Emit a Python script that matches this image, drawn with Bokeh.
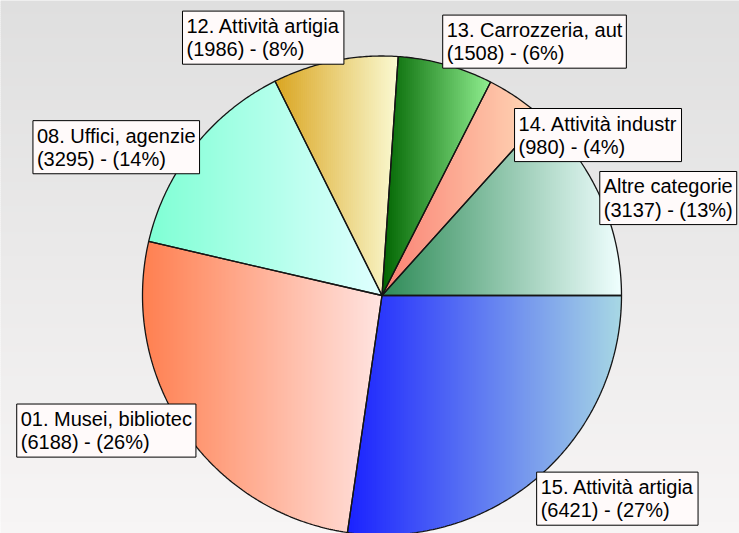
import math
from bokeh.plotting import figure
from bokeh.models import Range1d, Label
from bokeh.embed import file_html
from bokeh.resources import INLINE

# ---- data ----
categories = ["15. Attività artigia", "01. Musei, bibliotec", "08. Uffici, agenzie",
              "12. Attività artigia", "13. Carrozzeria, aut", "14. Attività industr",
              "Altre categorie"]
values = [6421, 6188, 3295, 1986, 1508, 980, 3137]

# ---- style ----
grad_left = ["#1a22ff", "#ff7f50", "#7fffd4", "#daa520", "#006400", "#fa8072", "#2e8b57"]
grad_right = ["#a8d8e4", "#ffe4e1", "#e0ffff", "#fafad2", "#90ee90", "#ffdab9", "#f0ffff"]
label_dx = [-6, -171.5, -165, -156.5, -7, -7, -5]   # screen px, box left edge vs anchor
label_dy = [22, 0, 0, -23, -23, 37, 0]              # screen px (down +), box centre vs anchor
bg_top, bg_bottom = "#dfdfdf", "#f7f5f5"

W, H = 739, 533
CX, CY, R = 381.5, H - 295, 239.5

p = figure(width=W, height=H, x_range=Range1d(0, W), y_range=Range1d(0, H),
           output_backend="svg", toolbar_location=None, min_border=0,
           x_axis_type=None, y_axis_type=None)
p.grid.visible = False
p.outline_line_color = None
p.background_fill_color = "white"
p.border_fill_color = "white"


def hex2rgb(h):
    h = h.lstrip("#")
    return tuple(int(h[i:i + 2], 16) for i in (0, 2, 4))


def mix(c1, c2, t):
    a, b = hex2rgb(c1), hex2rgb(c2)
    t = min(max(t, 0.0), 1.0)
    return "#%02x%02x%02x" % tuple(int(round(a[k] + (b[k] - a[k]) * t)) for k in range(3))


# ---- background vertical gradient ----
bl, br, bb, bt, bc = [], [], [], [], []
step = 2
for yr in range(0, H + 1, step):
    bl.append(-1)
    br.append(W + 1)
    bt.append(H - yr + 0.6)
    bb.append(H - yr - step)
    bc.append(mix(bg_top, bg_bottom, yr / H))
p.quad(left=bl, right=br, bottom=bb, top=bt, fill_color=bc, line_color=None)


def clip_edge(pts, inside, inter):
    out = []
    n = len(pts)
    for i in range(n):
        cur, prev = pts[i], pts[i - 1]
        if inside(cur):
            if not inside(prev):
                out.append(inter(prev, cur))
            out.append(cur)
        elif inside(prev):
            out.append(inter(prev, cur))
    return out


def xcut(xv):
    def f(p1, p2):
        t = (xv - p1[0]) / (p2[0] - p1[0])
        return (xv, p1[1] + t * (p2[1] - p1[1]))
    return f


def clip_x(poly, a, b):
    pts = clip_edge(poly, lambda q: q[0] >= a, xcut(a))
    if len(pts) >= 3:
        pts = clip_edge(pts, lambda q: q[0] <= b, xcut(b))
    return pts


total = sum(values)
cum = 0.0
slice_polys = []
sx, sy, sc = [], [], []
mids = []
for i, v in enumerate(values):
    a0 = -2 * math.pi * cum / total
    cum += v
    a1 = -2 * math.pi * cum / total
    n = max(4, int(abs(a1 - a0) / math.radians(0.5)))
    poly = [(CX, CY)]
    for k in range(n + 1):
        a = a0 + (a1 - a0) * k / n
        poly.append((CX + R * math.cos(a), CY + R * math.sin(a)))
    slice_polys.append(poly)
    mids.append((a0 + a1) / 2)
    xmin = min(q[0] for q in poly)
    xmax = max(q[0] for q in poly)
    x = xmin
    sw = 2.0
    while x < xmax:
        part = clip_x(poly, x, x + sw + 0.7)
        if len(part) >= 3:
            sx.append([q[0] for q in part])
            sy.append([q[1] for q in part])
            sc.append(mix(grad_left[i], grad_right[i], (x + sw / 2 - xmin) / (xmax - xmin)))
        x += sw

p.patches(xs=sx, ys=sy, fill_color=sc, line_color=None)
p.patches(xs=[[q[0] for q in poly] for poly in slice_polys],
          ys=[[q[1] for q in poly] for poly in slice_polys],
          fill_alpha=0, line_color="#151515", line_width=1.3)

# ---- labels ----
PAD = 4
for i, (cat, v) in enumerate(zip(categories, values)):
    m = mids[i]
    ax = CX + R * math.cos(m)
    ay = CY + R * math.sin(m)
    pct = round(100 * v / total)
    txt = f"{cat}\n({v}) - ({pct}%)"
    x = ax + label_dx[i] + PAD
    y = ay - label_dy[i]
    p.add_layout(Label(x=x, y=y, text=txt, text_align="left", text_baseline="middle",
                       text_font="Liberation Sans", text_font_size="20px",
                       text_color="black", text_line_height=1.05,
                       background_fill_color="#fffafa", border_line_color="black",
                       border_line_width=1, padding=PAD))

open("out.html", "w").write(file_html(p, INLINE))
